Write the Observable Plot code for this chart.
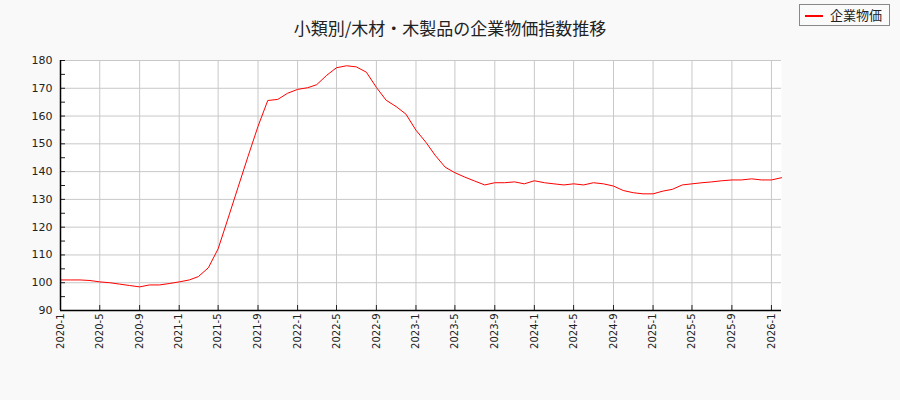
<!DOCTYPE html>
<html>
<head>
<meta charset="utf-8">
<script src="https://cdn.jsdelivr.net/npm/d3@7"></script>
<script src="https://cdn.jsdelivr.net/npm/@observablehq/plot@0.6"></script>
<style>
  html, body { margin: 0; padding: 0; background: #f9f9f9; }
  #wrap { position: relative; width: 900px; height: 400px; background: #f9f9f9; }
  #title { position: absolute; left: 0; width: 900px; top: 17px; text-align: center;
    font-family: "Noto Sans CJK JP", sans-serif; font-size: 17px; color: #222; line-height: 22px; }
  #legend { position: absolute; left: 799px; top: 4px; width: 91px; height: 22px;
    border: 1px solid #888; background: #fafafa; box-sizing: border-box;
    font-family: "Noto Sans CJK JP", sans-serif; font-size: 13px; color: #222; }
  #legend .sw { position: absolute; left: 5px; top: 10px; width: 18px; height: 2px; background: #ff0000; }
  #legend .lb { position: absolute; left: 30px; top: 1px; line-height: 18px; }
</style>
</head>
<body>
<div id="wrap">
  <div id="chart"></div>
  <div id="title"></div>
  <div id="legend"><div class="sw"></div><div class="lb"></div></div>
</div>
<script>
const titleText = "小類別/木材・木製品の企業物価指数推移";
const seriesName = "企業物価";
const months = [
  "2020-01","2020-02","2020-03","2020-04","2020-05","2020-06","2020-07","2020-08","2020-09","2020-10","2020-11","2020-12",
  "2021-01","2021-02","2021-03","2021-04","2021-05","2021-06","2021-07","2021-08","2021-09","2021-10","2021-11","2021-12",
  "2022-01","2022-02","2022-03","2022-04","2022-05","2022-06","2022-07","2022-08","2022-09","2022-10","2022-11","2022-12",
  "2023-01","2023-02","2023-03","2023-04","2023-05","2023-06","2023-07","2023-08","2023-09","2023-10","2023-11","2023-12",
  "2024-01","2024-02","2024-03","2024-04","2024-05","2024-06","2024-07","2024-08","2024-09","2024-10","2024-11","2024-12",
  "2025-01","2025-02","2025-03","2025-04","2025-05","2025-06","2025-07","2025-08","2025-09","2025-10","2025-11","2025-12",
  "2026-01","2026-02"
];
const values = [
  101.0,101.0,101.0,100.8,100.3,100.0,99.5,99.0,98.5,99.2,99.2,99.7,
  100.3,101.0,102.2,105.4,112.2,123.3,134.2,145.4,156.3,165.6,166.0,168.2,
  169.6,170.2,171.3,174.7,177.4,178.1,177.7,175.8,170.3,165.7,163.4,160.7,
  154.9,150.5,145.9,141.6,139.6,138.0,136.6,135.2,136.0,136.0,136.3,135.6,
  136.7,136.0,135.6,135.2,135.6,135.2,136.0,135.6,134.8,133.2,132.4,132.0,
  132.0,133.0,133.6,135.2,135.6,136.0,136.3,136.7,137.0,137.0,137.4,137.0,
  137.0,137.8
];
const xTickLabels = ["2020-1","2020-5","2020-9","2021-1","2021-5","2021-9","2022-1","2022-5","2022-9",
  "2023-1","2023-5","2023-9","2024-1","2024-5","2024-9","2025-1","2025-5","2025-9","2026-1"];
const yTicks = [90,100,110,120,130,140,150,160,170,180];
const yMinorTicks = [90,95,100,105,110,115,120,125,130,135,140,145,150,155,160,165,170,175,180];

const parseYM = s => { const [y, m] = s.split("-").map(Number); return new Date(Date.UTC(y, m - 1, 1)); };
const data = months.map((m, i) => ({date: parseYM(m), value: values[i]}));
const xTicks = xTickLabels.map(parseYM);
const fmt = d3.utcFormat("%Y-%-m");

document.getElementById("title").textContent = titleText;
document.querySelector("#legend .lb").textContent = seriesName;

const chart = Plot.plot({
  width: 900,
  height: 400,
  marginLeft: 60,
  marginRight: 119,
  marginTop: 60,
  marginBottom: 90,
  style: {background: "transparent", fontFamily: "DejaVu Sans, sans-serif", color: "#222"},
  x: {type: "utc", domain: [data[0].date, data[data.length - 1].date]},
  y: {domain: [90, 180]},
  marks: [
    Plot.frame({fill: "white", stroke: null}),
    Plot.gridY(yTicks, {stroke: "#c8c8c8", strokeOpacity: 1, strokeWidth: 1}),
    Plot.gridX(xTicks, {stroke: "#c8c8c8", strokeOpacity: 1, strokeWidth: 1}),
    Plot.line(data, {x: "date", y: "value", stroke: "#ff0000", strokeWidth: 1}),
    Plot.axisY(yTicks, {tickSize: 0, tickPadding: 8, fontSize: 11, label: null}),
    Plot.axisY(yMinorTicks, {tickSize: -5, tickFormat: () => "", label: null}),
    Plot.axisX(xTicks, {tickSize: -5, tickPadding: 8, tickRotate: -90, tickFormat: fmt, fontSize: 10, label: null}),
    Plot.ruleY([90], {stroke: "#000", strokeWidth: 1.5}),
    Plot.ruleX([data[0].date], {stroke: "#000", strokeWidth: 1.5})
  ]
});
document.getElementById("chart").appendChild(chart);
</script>
</body>
</html>
